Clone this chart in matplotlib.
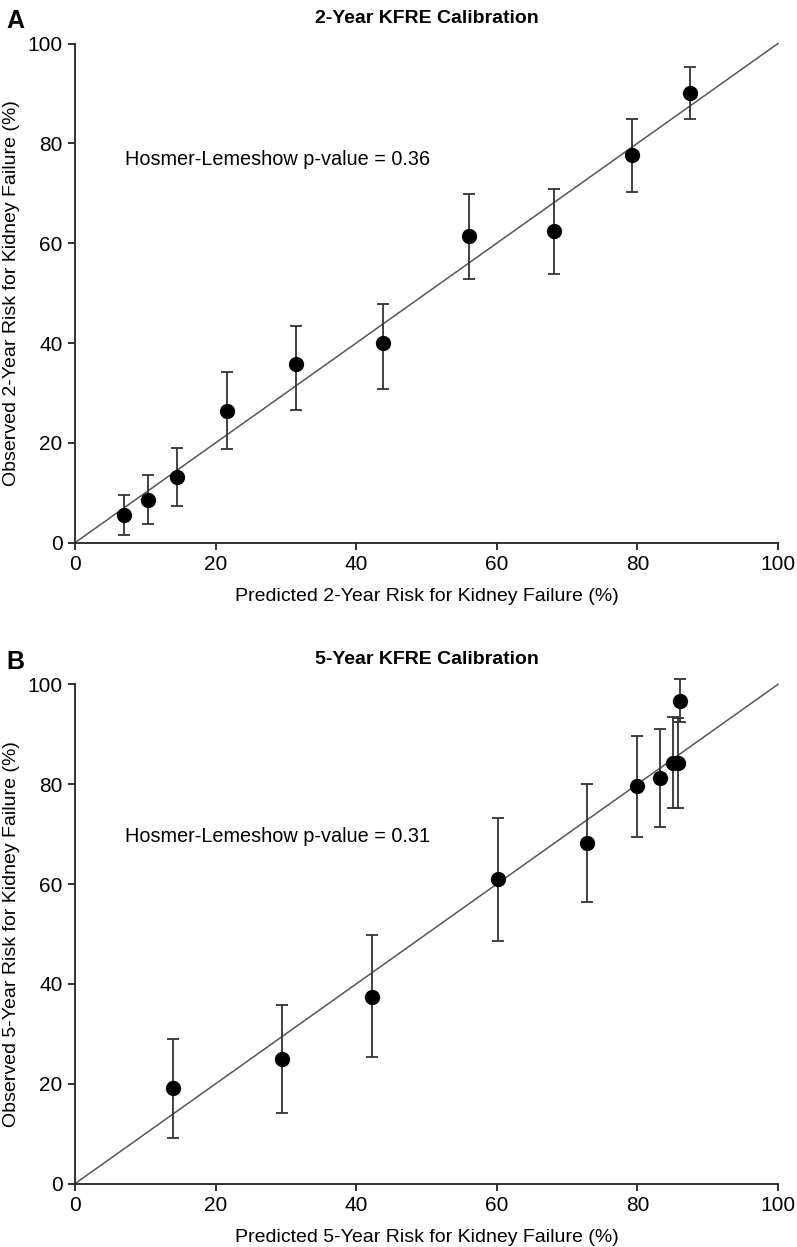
import matplotlib
matplotlib.use('Agg')
import matplotlib.pyplot as plt
import numpy as np

plt.rcParams['font.family'] = ['Liberation Sans', 'DejaVu Sans']

# 2-year calibration
pred_2y = [6.9, 10.4, 14.5, 21.6, 31.5, 43.8, 56.0, 68.1, 79.2, 87.5]
obs_2y = [5.5, 8.5, 13.1, 26.4, 35.8, 40.1, 61.4, 62.4, 77.6, 90.1]
lo_2y = [1.5, 3.7, 7.3, 18.7, 26.6, 30.8, 52.8, 53.9, 70.2, 84.8]
hi_2y = [9.5, 13.5, 19.0, 34.2, 43.4, 47.9, 69.9, 70.9, 84.9, 95.3]

# 5-year calibration
pred_5y = [13.9, 29.4, 42.3, 60.2, 72.9, 79.9, 83.2, 85.0, 85.8, 86.0]
obs_5y = [19.1, 25.0, 37.4, 61.0, 68.2, 79.6, 81.2, 84.3, 84.3, 96.7]
lo_5y = [9.1, 14.1, 25.3, 48.6, 56.4, 69.5, 71.4, 75.2, 75.2, 92.4]
hi_5y = [29.0, 35.8, 49.8, 73.2, 80.0, 89.7, 91.0, 93.4, 93.3, 101.1]

panels = [
    ('A', '2-Year KFRE Calibration', pred_2y, obs_2y, lo_2y, hi_2y,
     'Predicted 2-Year Risk for Kidney Failure (%)',
     'Observed 2-Year Risk for Kidney Failure (%)',
     'Hosmer-Lemeshow p-value = 0.36', 76.7),
    ('B', '5-Year KFRE Calibration', pred_5y, obs_5y, lo_5y, hi_5y,
     'Predicted 5-Year Risk for Kidney Failure (%)',
     'Observed 5-Year Risk for Kidney Failure (%)',
     'Hosmer-Lemeshow p-value = 0.31', 69.5),
]

fig = plt.figure(figsize=(7.97, 12.47), dpi=100)
boxes = [[0.0941, 0.5648, 0.8820, 0.4003], [0.0941, 0.0508, 0.8820, 0.4004]]

for box, (letter, title, px, oy, lo, hi, xl, yl, hl, hy) in zip(boxes, panels):
    ax = fig.add_axes(box)
    px = np.array(px)
    oy = np.array(oy)
    err = [oy - np.array(lo), np.array(hi) - oy]
    ax.plot([0, 100], [0, 100], color='#555555', lw=1.1, zorder=1)
    ax.errorbar(px, oy, yerr=err, fmt='none', ecolor='#333333', elinewidth=1.3,
                capsize=4, capthick=1.3, zorder=2)
    ax.plot(px, oy, 'o', color='black', markersize=10, zorder=3)
    ax.set_xlim(0, 100)
    ax.set_ylim(0, 100)
    ax.set_xticks(range(0, 101, 20))
    ax.set_yticks(range(0, 101, 20))
    ax.spines['top'].set_visible(False)
    ax.spines['right'].set_visible(False)
    for s in ['left', 'bottom']:
        ax.spines[s].set_linewidth(1.3)
        ax.spines[s].set_color('#222222')
    ax.tick_params(direction='out', length=5, width=1.3, labelsize=15, colors='#222222', pad=4)
    ax.tick_params(labelcolor='black')
    ax.set_xlabel(xl, fontsize=14, labelpad=10)
    ax.set_ylabel(yl, fontsize=14, labelpad=5)
    ax.set_title(title, fontsize=14, fontweight='bold', pad=15)
    ax.text(7.1, hy, hl, fontsize=14.3, va='center', ha='left')
    ax.text(-0.097, 1.045, letter, transform=ax.transAxes, fontsize=18,
            fontweight='bold', va='center', ha='left')
    for c in ax.get_children():
        c.set_clip_on(False)

fig.savefig('out.png', dpi=100)
